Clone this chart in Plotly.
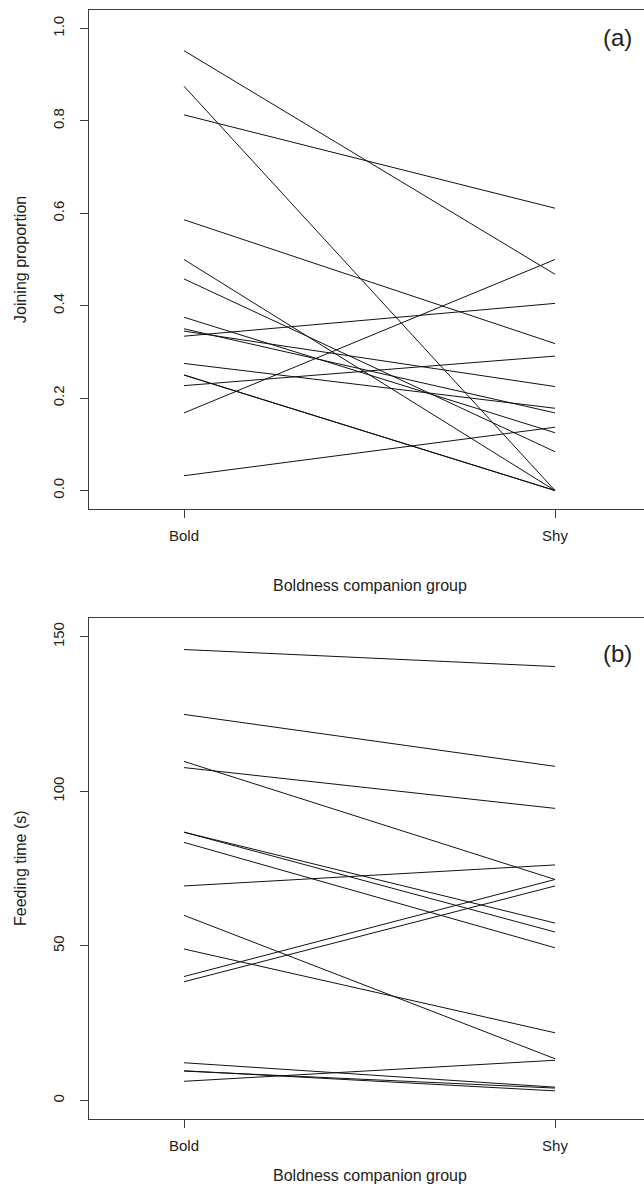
import plotly.graph_objects as go

# ---- data ----
groups = ["Bold", "Shy"]

joining_bold = [0.952, 0.875, 0.813, 0.586, 0.500, 0.458, 0.375, 0.350,
                0.345, 0.334, 0.275, 0.250, 0.250, 0.227, 0.168, 0.032]
joining_shy = [0.468, 0.000, 0.611, 0.318, 0.000, 0.084, 0.125, 0.168,
               0.225, 0.405, 0.178, 0.000, 0.000, 0.291, 0.500, 0.137]

feeding_bold = [145.9, 124.9, 109.7, 107.7, 86.8, 86.8, 83.5, 69.4,
                59.9, 49.0, 40.1, 38.4, 12.2, 9.5, 9.6, 6.2]
feeding_shy = [140.4, 108.1, 71.5, 94.5, 57.4, 54.5, 49.4, 76.2,
               13.5, 21.9, 71.5, 69.4, 4.3, 4.0, 3.1, 13.0]

y_ticks_a = [0.0, 0.2, 0.4, 0.6, 0.8, 1.0]
y_ticks_b = [0, 50, 100, 150]

W, H = 644, 1190
FONT = "Liberation Sans, Arial, Helvetica, sans-serif"
AX = "#3a3a3a"

fig = go.Figure()
xpos = [1, 2]
for b, s in zip(joining_bold, joining_shy):
    fig.add_trace(go.Scatter(x=xpos, y=[b, s], mode="lines",
                             line=dict(color="#111111", width=1),
                             xaxis="x", yaxis="y", showlegend=False,
                             hoverinfo="skip"))
for b, s in zip(feeding_bold, feeding_shy):
    fig.add_trace(go.Scatter(x=xpos, y=[b, s], mode="lines",
                             line=dict(color="#111111", width=1),
                             xaxis="x2", yaxis="y2", showlegend=False,
                             hoverinfo="skip"))

xdom = [89 / W, 1.0]
xrange = [1 - 95 / 371, 2 + 89 / 371]
dom_a = [1 - 509 / H, 1 - 10 / H]
dom_b = [1 - 1119 / H, 1 - 618.3 / H]

common_x = dict(domain=xdom, range=xrange, tickvals=xpos, ticktext=groups,
                showgrid=False, zeroline=False, showline=True, linecolor=AX,
                linewidth=1.3, mirror=True, ticks="outside", ticklen=8,
                tickcolor=AX, tickwidth=1.2, ticklabelstandoff=5,
                tickfont=dict(family=FONT, size=15, color="#222"))
common_y = dict(showgrid=False, zeroline=False, showline=True, linecolor=AX,
                linewidth=1.3, ticks="outside", ticklen=8, tickcolor=AX,
                tickwidth=1.2, tickangle=-90, ticklabelstandoff=10,
                tickfont=dict(family=FONT, size=15, color="#222"))

fig.update_layout(
    width=W, height=H, margin=dict(l=0, r=0, t=0, b=0),
    paper_bgcolor="white", plot_bgcolor="white", showlegend=False,
    xaxis=dict(anchor="y", **common_x),
    yaxis=dict(anchor="x", domain=dom_a, range=[-0.04, 1.04],
               tickvals=y_ticks_a, ticktext=[f"{v:.1f}" for v in y_ticks_a],
               **common_y),
    xaxis2=dict(anchor="y2", **common_x),
    yaxis2=dict(anchor="x2", domain=dom_b, range=[-6, 156],
                tickvals=y_ticks_b, ticktext=[str(v) for v in y_ticks_b],
                **common_y),
)

ann_font = dict(family=FONT, size=16, color="#222")
annotations = [
    dict(text="Boldness companion group", x=370 / W, y=1 - 585 / H),
    dict(text="Boldness companion group", x=370 / W, y=1 - 1175 / H),
    dict(text="Joining proportion", x=20 / W, y=1 - 260 / H, textangle=-90),
    dict(text="Feeding time (s)", x=20 / W, y=1 - 868 / H, textangle=-90),
]
for a in annotations:
    fig.add_annotation(xref="paper", yref="paper", showarrow=False,
                       xanchor="center", yanchor="middle", font=ann_font, **a)
fig.add_annotation(text="(a)", xref="paper", yref="paper", x=617 / W,
                   y=1 - 37 / H, showarrow=False, xanchor="center",
                   yanchor="middle", font=dict(family=FONT, size=24, color="#222"))
fig.add_annotation(text="(b)", xref="paper", yref="paper", x=617 / W,
                   y=1 - 653 / H, showarrow=False, xanchor="center",
                   yanchor="middle", font=dict(family=FONT, size=24, color="#222"))

fig.write_html("out.html")
